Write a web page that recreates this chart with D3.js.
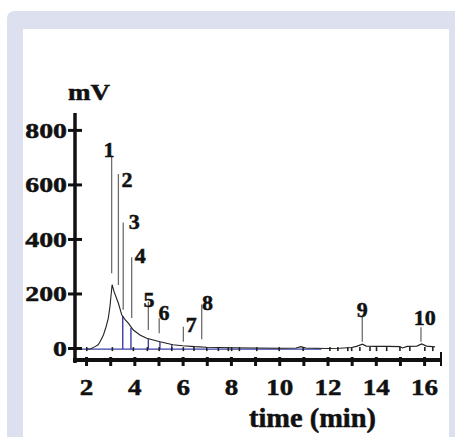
<!DOCTYPE html>
<html>
<head>
<meta charset="utf-8">
<script src="https://cdnjs.cloudflare.com/ajax/libs/d3/7.8.5/d3.min.js"></script>
<style>
  body { margin: 0; background: #fff; }
  svg { display: block; }
</style>
</head>
<body>
<svg></svg>
<script>
var WIDTH = 455;
var HEIGHT = 437;
var FONT = '"Liberation Serif", "Times New Roman", Times, serif';

// chromatogram trace (time in min, signal in mV)
var traceT = [2.0, 2.2, 2.37, 2.5, 2.58, 2.72, 2.83, 2.92, 2.99, 3.03, 3.08, 3.16, 3.24, 3.34, 3.48, 3.61, 3.75, 3.96, 4.23, 4.51, 5.06, 5.6, 6.0, 6.5, 7.0, 7.5, 8.0, 9.0, 10.0, 10.7, 10.9, 11.1, 11.5, 12.0, 12.5, 13.0, 13.2, 13.45, 13.6, 14.0, 14.5, 15.0, 15.1, 15.3, 15.7, 15.9, 16.1, 16.45];
var traceV = [-4, -3, 5, 12, 23, 48, 78, 109, 152, 188, 232, 207, 188, 164, 121, 105, 91, 66, 48, 36, 23, 12, 8, 5, 3, 2, 1, 0, -1, 0, 5, 0, -1, -2, -1, 2, 6, 14, 7, 6, 6, 5, 0, 6, 7, 15, 7, 4];

// integration baseline
var baseStart = 1.63;
var baseEnd = 11.75;
var baseValue = -4;

// blue drop lines at integration boundaries
var dropT = [3.52, 3.86, 4.58, 5.06, 5.55];
var dropV = [118, 74, 34, 22, 12];

// integration markers on the baseline
var markerT = [2.03, 3.09, 3.96, 4.54, 5.03, 5.55, 6.03, 6.47, 7.0, 7.48, 7.89, 8.03, 8.35, 9.07, 10.0, 10.99, 12.1, 12.43, 12.84, 13.0, 13.34, 13.76, 14.03, 14.45, 15.0, 15.41, 16.03, 16.36];

// numbered peaks
var peakNames = ['1', '2', '3', '4', '5', '6', '7', '8', '9', '10'];
var peakT = [3.06, 3.34, 3.54, 3.89, 4.58, 5.03, 6.03, 6.79, 13.44, 15.87];
var peakTop = [702, 638, 460, 333, 170, 109, 78, 160, 114, 76];
var peakBottom = [274, 231, 140, 110, 66, 54, 23, 32, 23, 23];
var labelT = [2.95, 3.70, 4.0, 4.24, 4.61, 5.23, 6.36, 7.03, 13.44, 16.03];
var labelV = [701, 592, 436, 313, 152, 103, 60, 139, 115, 84];

// axis ticks
var xTicks = [2, 3, 4, 5, 6, 7, 8, 9, 10, 11, 12, 13, 14, 15, 16];
var xLabels = [2, 4, 6, 8, 10, 12, 14, 16];
var yTicks = [0, 200, 400, 600, 800];

var svg = d3.select('svg')
  .attr('width', WIDTH)
  .attr('height', HEIGHT);

// bold serif text helper
var boldText = function(sel, size) {
  sel.style('font-family', FONT)
    .style('font-weight', 'bold')
    .style('font-size', size + 'px')
    .attr('fill', '#111')
    .attr('stroke', '#111')
    .attr('stroke-width', 0.5);
};

// lavender frame with white panel inside
svg.append('rect')
  .attr('x', 7).attr('y', 11)
  .attr('width', WIDTH).attr('height', HEIGHT)
  .attr('rx', 7)
  .attr('fill', '#dde1ef');
svg.append('rect')
  .attr('x', 23).attr('y', 29)
  .attr('width', 426).attr('height', HEIGHT)
  .attr('fill', '#fff');

var xScale = d3.scaleLinear().domain([1.46, 16.7]).range([73, 441]);
var yScale = d3.scaleLinear().domain([-44, 862]).range([360, 113]);

// baseline (blue)
svg.append('line')
  .attr('x1', xScale(baseStart)).attr('x2', xScale(baseEnd))
  .attr('y1', yScale(baseValue)).attr('y2', yScale(baseValue))
  .attr('stroke', '#3b3fa8')
  .attr('stroke-width', 1.4);

// drop lines
svg.append('g')
  .selectAll('line')
  .data(dropT)
  .enter()
  .append('line')
  .attr('x1', function(d) { return xScale(d); })
  .attr('x2', function(d) { return xScale(d); })
  .attr('y1', yScale(baseValue))
  .attr('y2', function(d, i) { return yScale(dropV[i]); })
  .attr('stroke', '#3b3fa8')
  .attr('stroke-width', 1.4);

// trace
var trace = traceT.map(function(t, i) { return [t, traceV[i]]; });
var lineGen = d3.line()
  .x(function(d) { return xScale(d[0]); })
  .y(function(d) { return yScale(d[1]); });
svg.append('path')
  .datum(trace)
  .attr('d', lineGen)
  .attr('fill', 'none')
  .attr('stroke', '#222')
  .attr('stroke-width', 1.1);

// markers
svg.append('g')
  .selectAll('line')
  .data(markerT)
  .enter()
  .append('line')
  .attr('x1', function(d) { return xScale(d); })
  .attr('x2', function(d) { return xScale(d); })
  .attr('y1', yScale(baseValue) - 2)
  .attr('y2', yScale(baseValue) + 2)
  .attr('stroke', '#222')
  .attr('stroke-width', 1.6);

// peak marker lines (gray)
svg.append('g')
  .selectAll('line')
  .data(peakT)
  .enter()
  .append('line')
  .attr('x1', function(d) { return xScale(d); })
  .attr('x2', function(d) { return xScale(d); })
  .attr('y1', function(d, i) { return yScale(peakTop[i]); })
  .attr('y2', function(d, i) { return yScale(peakBottom[i]); })
  .attr('stroke', '#6e6e6e')
  .attr('stroke-width', 1.3);

// peak numbers
svg.append('g')
  .selectAll('text')
  .data(peakNames)
  .enter()
  .append('text')
  .attr('x', function(d, i) { return xScale(labelT[i]); })
  .attr('y', function(d, i) { return yScale(labelV[i]); })
  .attr('text-anchor', 'middle')
  .call(boldText, 22)
  .text(function(d) { return d; });

// x axis
var bottomAxis = d3.axisBottom(xScale)
  .tickValues(xTicks)
  .tickSizeOuter(0)
  .tickFormat(function(d) { return xLabels.indexOf(d) >= 0 ? d : ''; });
var gx = svg.append('g')
  .attr('transform', 'translate(0,360)')
  .call(bottomAxis)
  .attr('font-family', null);
gx.select('.domain').remove();
gx.selectAll('.tick line')
  .attr('y1', -3).attr('y2', 6)
  .attr('stroke', '#111')
  .attr('stroke-width', 3);
gx.selectAll('.tick text')
  .attr('y', 35).attr('dy', 0)
  .call(boldText, 24)
  .attr('textLength', function(d) { return String(d).length * 13.5; })
  .attr('lengthAdjust', 'spacingAndGlyphs');
svg.append('line')
  .attr('x1', 73).attr('x2', xScale.range()[1])
  .attr('y1', 360).attr('y2', 360)
  .attr('stroke', '#111')
  .attr('stroke-width', 4);
// end tick
svg.append('line')
  .attr('x1', xScale.range()[1]).attr('x2', xScale.range()[1])
  .attr('y1', 352).attr('y2', 366)
  .attr('stroke', '#111')
  .attr('stroke-width', 2);

// y axis
var leftAxis = d3.axisLeft(yScale)
  .tickValues(yTicks)
  .tickSizeOuter(0);
var gy = svg.append('g')
  .attr('transform', 'translate(75,0)')
  .call(leftAxis)
  .attr('font-family', null);
gy.select('.domain').remove();
gy.selectAll('.tick line')
  .attr('x1', -7).attr('x2', 7)
  .attr('stroke', '#111')
  .attr('stroke-width', 3);
gy.selectAll('.tick text')
  .attr('x', -8).attr('dy', 7.5)
  .call(boldText, 22)
  .attr('textLength', function(d) { return String(d).length * 13.9; })
  .attr('lengthAdjust', 'spacingAndGlyphs');
svg.append('line')
  .attr('x1', 75).attr('x2', 75)
  .attr('y1', 113).attr('y2', 363)
  .attr('stroke', '#111')
  .attr('stroke-width', 3.5);

// axis titles
svg.append('text')
  .attr('x', 68).attr('y', 100)
  .call(boldText, 23)
  .attr('textLength', 42)
  .attr('lengthAdjust', 'spacingAndGlyphs')
  .text('mV');
svg.append('text')
  .attr('x', 249).attr('y', 427)
  .call(boldText, 27)
  .attr('textLength', 127)
  .attr('lengthAdjust', 'spacingAndGlyphs')
  .text('time (min)');
</script>
</body>
</html>
